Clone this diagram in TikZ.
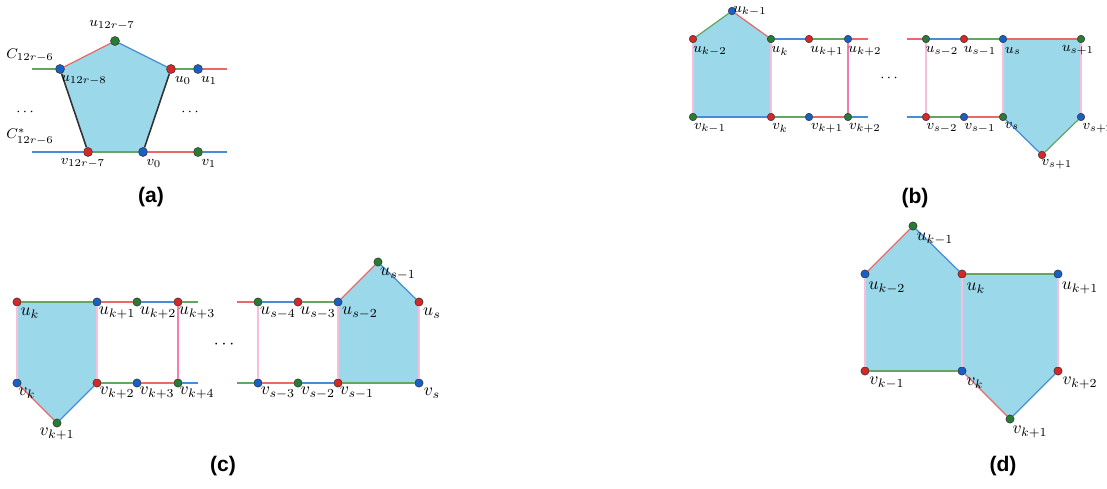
\documentclass[tikz,border=0pt]{standalone}
\usepackage{fontspec}
\newfontfamily\capfont{Liberation Sans}
\usetikzlibrary{backgrounds}
\definecolor{nred}{RGB}{214,40,40}
\definecolor{nblue}{RGB}{25,95,200}
\definecolor{ngreen}{RGB}{40,125,50}
\definecolor{ered}{RGB}{232,105,105}
\definecolor{eblue}{RGB}{70,140,215}
\definecolor{egreen}{RGB}{100,165,100}
\definecolor{epink}{RGB}{245,125,170}
\definecolor{elpink}{RGB}{250,190,220}
\definecolor{face}{RGB}{155,216,234}

\tikzset{
  vtx/.style={circle, draw=black!80, line width=0.3pt, inner sep=0pt, minimum size=1.65mm},
  R/.style={vtx, fill=nred},
  B/.style={vtx, fill=nblue},
  G/.style={vtx, fill=ngreen},
  er/.style={ered, line width=0.7pt},
  eb/.style={eblue, line width=0.7pt},
  eg/.style={egreen, line width=0.7pt},
  ek/.style={black!80, line width=0.9pt},
  ep/.style={epink, line width=0.6pt},
  elp/.style={elpink, line width=1.1pt},
  lbl/.style={inner sep=0pt},
  smalllbl/.style={lbl/.append style={font=\fontsize{8.5}{10}\selectfont}},
  panelcap/.style={font=\capfont\bfseries\large}
}

\begin{document}
\begin{tikzpicture}[x=0.02cm, y=-0.02cm]
\useasboundingbox (0,0) rectangle (1107,488);

%---------------------------------------
% (a)
%---------------------------------------
\begin{scope}[smalllbl, vtx/.append style={minimum size=1.8mm}]
  \node[B] (a1) at (60,69) {};
  \node[G] (a2) at (115,41) {};
  \node[R] (a3) at (171,69) {};
  \node[B] (a4) at (198,69) {};
  \node[R] (b1) at (88,152) {};
  \node[B] (b2) at (143,152) {};
  \node[G] (b3) at (198,152) {};
  \coordinate (aL) at (32,69);
  \coordinate (aR) at (227,69);
  \coordinate (bL) at (32,152);
  \coordinate (bR) at (227,152);

  \begin{scope}[on background layer]
    \fill[face] (a1.center) -- (a2.center) -- (a3.center) -- (b2.center) -- (b1.center) -- cycle;
  \end{scope}

  \draw[eg] (aL) -- (a1);
  \draw[er] (a1) -- (a2);
  \draw[eb] (a2) -- (a3);
  \draw[eg] (a3) -- (a4);
  \draw[er] (a4) -- (aR);
  \draw[eb] (bL) -- (b1);
  \draw[eg] (b1) -- (b2);
  \draw[er] (b2) -- (b3);
  \draw[eb] (b3) -- (bR);
  \draw[ek] (a1) -- (b1);
  \draw[ek] (a3) -- (b2);

  \node[lbl] (la2) at (112,25) {$u_{12r-7}$};
  \node[lbl] (lC) at (30,55) {$C_{12r-6}$};
  \node[lbl] (la1) at (84,80) {$u_{12r-8}$};
  \node[lbl] (la3) at (183,80) {$u_0$};
  \node[lbl] (la4) at (209,80) {$u_1$};
  \node[lbl] (ldl) at (25,112) {$\cdots$};
  \node[lbl] (ldr) at (190,112) {$\cdots$};
  \node[lbl] (lCs) at (30,137) {$C^*_{12r-6}$};
  \node[lbl] (lb1) at (83,163) {$v_{12r-7}$};
  \node[lbl] (lb2) at (154,163) {$v_0$};
  \node[lbl] (lb3) at (209,163) {$v_1$};
  \node[panelcap] (capa) at (151,197) {(a)};
\end{scope}

%---------------------------------------
% (b)
%---------------------------------------
\begin{scope}[smalllbl, vtx/.append style={minimum size=1.5mm}]
  % left block
  \node[R] (p1) at (693,39) {};
  \node[B] (p2) at (732,11) {};
  \node[G] (p3) at (771,39) {};
  \node[R] (p4) at (809,39) {};
  \node[B] (p5) at (848,39) {};
  \node[G] (q1) at (693,117) {};
  \node[R] (q2) at (771,117) {};
  \node[B] (q3) at (809,117) {};
  \node[G] (q4) at (848,117) {};
  \coordinate (pR) at (868,39);
  \coordinate (qR) at (868,117);

  % right block
  \node[G] (s1) at (926,39) {};
  \node[R] (s2) at (964,39) {};
  \node[B] (s3) at (1003,39) {};
  \node[G] (s4) at (1081,39) {};
  \node[R] (t1) at (926,117) {};
  \node[B] (t2) at (964,117) {};
  \node[G] (t3) at (1003,117) {};
  \node[R] (t4) at (1042,155) {};
  \node[B] (t5) at (1081,117) {};
  \coordinate (sL) at (907,39);
  \coordinate (tL) at (907,117);

  \begin{scope}[on background layer]
    \fill[face] (p1.center) -- (p2.center) -- (p3.center) -- (q2.center) -- (q1.center) -- cycle;
    \fill[face] (s3.center) -- (s4.center) -- (t5.center) -- (t4.center) -- (t3.center) -- cycle;
  \end{scope}

  \draw[eg] (p1) -- (p2);
  \draw[er] (p2) -- (p3);
  \draw[eb] (p3) -- (p4);
  \draw[eg] (p4) -- (p5);
  \draw[er] (p5) -- (pR);
  \draw[eb] (q1) -- (q2);
  \draw[eg] (q2) -- (q3);
  \draw[er] (q3) -- (q4);
  \draw[eb] (q4) -- (qR);
  \draw[elp] (p1) -- (q1);
  \draw[elp] (p3) -- (q2);
  \draw[ep] (p5) -- (q4);

  \draw[er] (sL) -- (s1);
  \draw[eb] (s1) -- (s2);
  \draw[eg] (s2) -- (s3);
  \draw[er] (s3) -- (s4);
  \draw[eb] (tL) -- (t1);
  \draw[eg] (t1) -- (t2);
  \draw[er] (t2) -- (t3);
  \draw[eb] (t3) -- (t4);
  \draw[eg] (t4) -- (t5);
  \draw[elp] (s1) -- (t1);
  \draw[elp] (s3) -- (t3);
  \draw[elp] (s4) -- (t5);

  \node[lbl] (lp2) at (750,11) {$u_{k-1}$};
  \node[lbl] (lp1) at (710,51) {$u_{k-2}$};
  \node[lbl] (lp3) at (780,51) {$u_k$};
  \node[lbl] (lp4) at (827,51) {$u_{k+1}$};
  \node[lbl] (lp5) at (865,51) {$u_{k+2}$};
  \node[lbl] (lq1) at (710,128) {$v_{k-1}$};
  \node[lbl] (lq2) at (780,128) {$v_k$};
  \node[lbl] (lq3) at (827,128) {$v_{k+1}$};
  \node[lbl] (lq4) at (865,128) {$v_{k+2}$};
  \node[lbl] (ldb) at (889,78) {$\cdots$};
  \node[lbl] (ls1) at (942,51) {$u_{s-2}$};
  \node[lbl] (ls2) at (980,51) {$u_{s-1}$};
  \node[lbl] (ls3) at (1013,51) {$u_s$};
  \node[lbl] (ls4) at (1078,50) {$u_{s+1}$};
  \node[lbl] (lt1) at (942,128) {$v_{s-2}$};
  \node[lbl] (lt2) at (980,128) {$v_{s-1}$};
  \node[lbl] (lt3) at (1012,126) {$v_s$};
  \node[lbl] (lt4) at (1057,164) {$v_{s+1}$};
  \node[lbl] (lt5) at (1098,128) {$v_{s+2}$};
  \node[panelcap] (capb) at (915,198) {(b)};
\end{scope}

%---------------------------------------
% (c)
%---------------------------------------
\begin{scope}
  % left block
  \node[R] (c1) at (17,302) {};
  \node[B] (c2) at (97,302) {};
  \node[G] (c3) at (137,302) {};
  \node[R] (c4) at (178,302) {};
  \node[B] (d1) at (17,383) {};
  \node[G] (d2) at (57,423) {};
  \node[R] (d3) at (97,383) {};
  \node[B] (d4) at (137,383) {};
  \node[G] (d5) at (178,383) {};
  \coordinate (cR) at (198,302);
  \coordinate (dR) at (198,383);

  % right block
  \node[G] (e1) at (258,302) {};
  \node[R] (e2) at (298,302) {};
  \node[B] (e3) at (338,302) {};
  \node[G] (e4) at (378,262) {};
  \node[R] (e5) at (419,302) {};
  \node[B] (f1) at (258,383) {};
  \node[G] (f2) at (298,383) {};
  \node[R] (f3) at (338,383) {};
  \node[B] (f4) at (419,383) {};
  \coordinate (eL) at (237,302);
  \coordinate (fL) at (237,383);

  \begin{scope}[on background layer]
    \fill[face] (c1.center) -- (c2.center) -- (d3.center) -- (d2.center) -- (d1.center) -- cycle;
    \fill[face] (e3.center) -- (e4.center) -- (e5.center) -- (f4.center) -- (f3.center) -- cycle;
  \end{scope}

  \draw[eg] (c1) -- (c2);
  \draw[er] (c2) -- (c3);
  \draw[eb] (c3) -- (c4);
  \draw[eg] (c4) -- (cR);
  \draw[er] (d1) -- (d2);
  \draw[eb] (d2) -- (d3);
  \draw[eg] (d3) -- (d4);
  \draw[er] (d4) -- (d5);
  \draw[eb] (d5) -- (dR);
  \draw[elp] (c1) -- (d1);
  \draw[elp] (c2) -- (d3);
  \draw[ep] (c4) -- (d5);

  \draw[er] (eL) -- (e1);
  \draw[eb] (e1) -- (e2);
  \draw[eg] (e2) -- (e3);
  \draw[er] (e3) -- (e4);
  \draw[eb] (e4) -- (e5);
  \draw[eg] (fL) -- (f1);
  \draw[er] (f1) -- (f2);
  \draw[eb] (f2) -- (f3);
  \draw[eg] (f3) -- (f4);
  \draw[elp] (e1) -- (f1);
  \draw[elp] (e3) -- (f3);
  \draw[elp] (e5) -- (f4);

  \node[lbl] (lc1) at (30,313) {$u_k$};
  \node[lbl] (lc2) at (117,313) {$u_{k+1}$};
  \node[lbl] (lc3) at (158,313) {$u_{k+2}$};
  \node[lbl] (lc4) at (197,313) {$u_{k+3}$};
  \node[lbl] (ld1) at (27,393) {$v_k$};
  \node[lbl] (ld2) at (57,434) {$v_{k+1}$};
  \node[lbl] (ld3) at (117,393) {$v_{k+2}$};
  \node[lbl] (ld4) at (157,393) {$v_{k+3}$};
  \node[lbl] (ld5) at (197,393) {$v_{k+4}$};
  \node[lbl] (ldc) at (224,345) {$\cdots$};
  \node[lbl] (le4) at (398,274) {$u_{s-1}$};
  \node[lbl] (le1) at (278,313) {$u_{s-4}$};
  \node[lbl] (le2) at (318,313) {$u_{s-3}$};
  \node[lbl] (le3) at (360,313) {$u_{s-2}$};
  \node[lbl] (le5) at (432,313) {$u_s$};
  \node[lbl] (lf1) at (278,393) {$v_{s-3}$};
  \node[lbl] (lf2) at (318,393) {$v_{s-2}$};
  \node[lbl] (lf3) at (357,393) {$v_{s-1}$};
  \node[lbl] (lf4) at (432,393) {$v_s$};
  \node[panelcap] (capc) at (223,466) {(c)};
\end{scope}

%---------------------------------------
% (d)
%---------------------------------------
\begin{scope}
  \node[B] (g1) at (865,274) {};
  \node[G] (g2) at (913,226) {};
  \node[R] (g3) at (962,274) {};
  \node[B] (g4) at (1058,274) {};
  \node[R] (h1) at (865,371) {};
  \node[B] (h2) at (962,371) {};
  \node[G] (h3) at (1010,419) {};
  \node[R] (h4) at (1058,371) {};

  \begin{scope}[on background layer]
    \fill[face] (g1.center) -- (g2.center) -- (g3.center) -- (h2.center) -- (h1.center) -- cycle;
    \fill[face] (g3.center) -- (g4.center) -- (h4.center) -- (h3.center) -- (h2.center) -- cycle;
  \end{scope}

  \draw[er] (g1) -- (g2);
  \draw[eb] (g2) -- (g3);
  \draw[eg] (g3) -- (g4);
  \draw[elp] (g1) -- (h1);
  \draw[elp] (g3) -- (h2);
  \draw[elp] (g4) -- (h4);
  \draw[eg] (h1) -- (h2);
  \draw[er] (h2) -- (h3);
  \draw[eb] (h3) -- (h4);

  \node[lbl] (lg2) at (935,239) {$u_{k-1}$};
  \node[lbl] (lg1) at (887,288) {$u_{k-2}$};
  \node[lbl] (lg3) at (976,288) {$u_k$};
  \node[lbl] (lg4) at (1080,288) {$u_{k+1}$};
  \node[lbl] (lh1) at (887,383) {$v_{k-1}$};
  \node[lbl] (lh2) at (975,383) {$v_k$};
  \node[lbl] (lh4) at (1080,383) {$v_{k+2}$};
  \node[lbl] (lh3) at (1030,432) {$v_{k+1}$};
  \node[panelcap] (capd) at (1003,466) {(d)};
\end{scope}

\end{tikzpicture}
\end{document}
